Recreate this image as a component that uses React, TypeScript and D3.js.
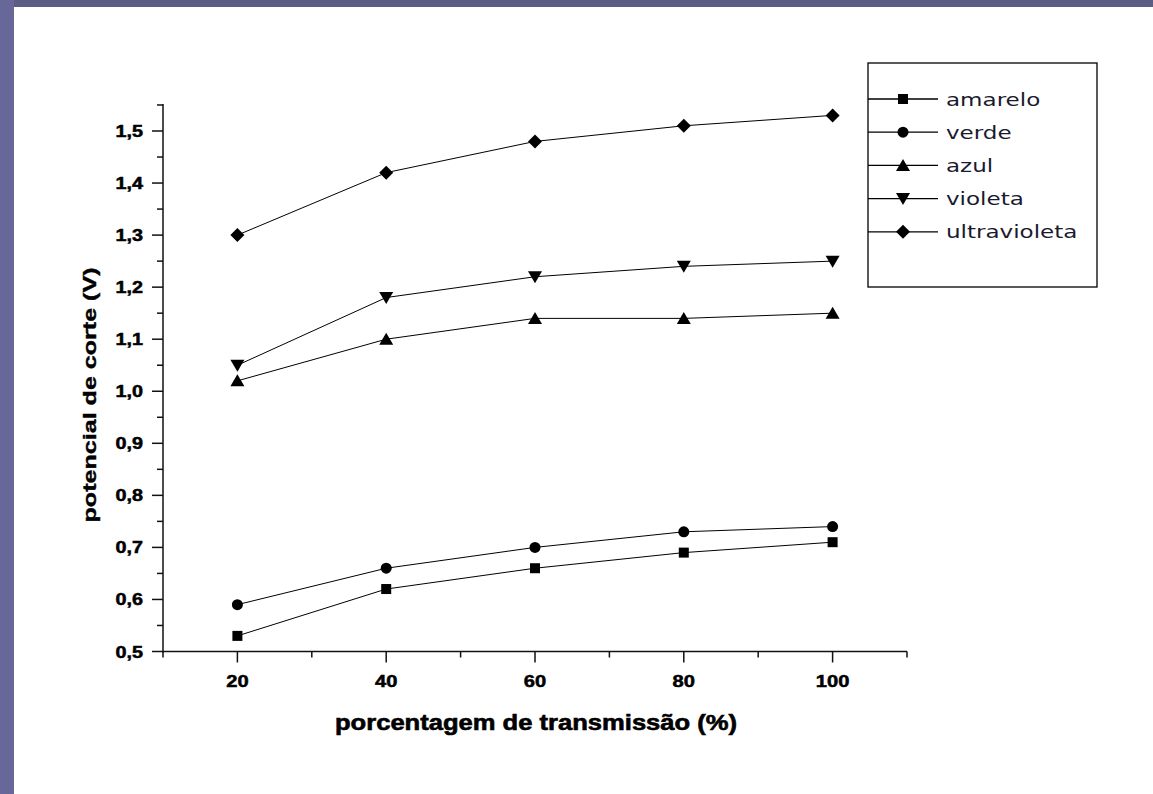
import React from "react";
import * as d3 from "d3";

const xValues = [20, 40, 60, 80, 100];
const seriesNames = ["amarelo", "verde", "azul", "violeta", "ultravioleta"];
const amarelo = [0.53, 0.62, 0.66, 0.69, 0.71];
const verde = [0.59, 0.66, 0.70, 0.73, 0.74];
const azul = [1.02, 1.10, 1.14, 1.14, 1.15];
const violeta = [1.05, 1.18, 1.22, 1.24, 1.25];
const ultravioleta = [1.30, 1.42, 1.48, 1.51, 1.53];
const seriesValues = [amarelo, verde, azul, violeta, ultravioleta];
const markerTypes = ["square", "circle", "triangle", "triangleDown", "diamond"];
const xTicks = [20, 40, 60, 80, 100];
const xMinorTicks = [10, 30, 50, 70, 90, 110];
const yTicks = [0.5, 0.6, 0.7, 0.8, 0.9, 1.0, 1.1, 1.2, 1.3, 1.4, 1.5];
const yMinorTicks = [0.55, 0.65, 0.75, 0.85, 0.95, 1.05, 1.15, 1.25, 1.35, 1.45, 1.55];

const W = 1153;
const H = 794;
const x = d3.scaleLinear().domain([10, 110]).range([163, 907]);
const y = d3.scaleLinear().domain([0.5, 1.5]).range([651.5, 131]);

function Marker({ type, cx, cy }: { type: string; cx: number; cy: number }) {
  if (type === "square") return <rect x={cx - 5} y={cy - 5} width={10} height={10} fill="#000" />;
  if (type === "circle") return <circle cx={cx} cy={cy} r={5.5} fill="#000" />;
  if (type === "triangle")
    return <path d={`M${cx},${cy - 6.5}L${cx + 7},${cy + 5.5}L${cx - 7},${cy + 5.5}Z`} fill="#000" />;
  if (type === "triangleDown")
    return <path d={`M${cx},${cy + 6.5}L${cx + 7},${cy - 5.5}L${cx - 7},${cy - 5.5}Z`} fill="#000" />;
  return <path d={`M${cx},${cy - 7}L${cx + 7},${cy}L${cx},${cy + 7}L${cx - 7},${cy}Z`} fill="#000" />;
}

export default function App() {
  const line = d3
    .line<number>()
    .x((_, i) => x(xValues[i]))
    .y((d) => y(d));
  const x0 = x.range()[0];
  const x1 = x.range()[1];
  const yBottom = y(0.5);
  const yTop = y(1.552);
  const tickFont = "'Liberation Sans', Arial, sans-serif";
  const legX = 868;
  const legY = 63;
  return (
    <svg
      width={W}
      height={H}
      style={{ position: "absolute", left: 0, top: 0, display: "block" }}
    >
      <rect x={0} y={0} width={W} height={H} fill="#fff" />
      <rect x={0} y={0} width={W} height={7} fill="#5d5c84" />
      <rect x={0} y={0} width={14} height={H} fill="#68679a" />
      {/* axes */}
      <line x1={x0} x2={x1} y1={yBottom} y2={yBottom} stroke="#111" strokeWidth={1.5} />
      <line x1={x0} x2={x0} y1={yBottom + 1} y2={yTop} stroke="#111" strokeWidth={1.5} />
      {xTicks.map((t) => (
        <g key={"xt" + t}>
          <line x1={x(t)} x2={x(t)} y1={yBottom} y2={yBottom + 11} stroke="#111" strokeWidth={1.5} />
          <text
            transform={`translate(${x(t)},687) scale(1.22,1)`}
            textAnchor="middle"
            fontFamily={tickFont}
            fontWeight="bold"
            fontSize={16.5}
            stroke="#000"
            strokeWidth={0.5}
            fill="#000"
          >
            {t}
          </text>
        </g>
      ))}
      {xMinorTicks.map((t) => (
        <line key={"xm" + t} x1={x(t)} x2={x(t)} y1={yBottom} y2={yBottom + 6} stroke="#111" strokeWidth={1.5} />
      ))}
      {yTicks.map((t) => (
        <g key={"yt" + t}>
          <line x1={x0 - 11} x2={x0} y1={y(t)} y2={y(t)} stroke="#111" strokeWidth={1.5} />
          <text
            transform={`translate(143,${y(t) + 6}) scale(1.2,1)`}
            textAnchor="end"
            fontFamily={tickFont}
            fontWeight="bold"
            fontSize={16.5}
            stroke="#000"
            strokeWidth={0.5}
            fill="#000"
          >
            {d3.format(".1f")(t).replace(".", ",")}
          </text>
        </g>
      ))}
      {yMinorTicks.map((t) => (
        <line key={"ym" + t} x1={x0 - 6} x2={x0} y1={y(t)} y2={y(t)} stroke="#111" strokeWidth={1.5} />
      ))}
      {/* axis titles */}
      <text
        x={536}
        y={730}
        textAnchor="middle"
        fontFamily={tickFont}
        fontWeight="bold"
        fontSize={22}
        textLength={402}
        lengthAdjust="spacingAndGlyphs"
        stroke="#000"
        strokeWidth={0.6}
        fill="#000"
      >
        porcentagem de transmissão (%)
      </text>
      <text
        transform={`translate(96,${395}) rotate(-90)`}
        textAnchor="middle"
        fontFamily={tickFont}
        fontWeight="bold"
        fontSize={19}
        textLength={255}
        lengthAdjust="spacingAndGlyphs"
        stroke="#000"
        strokeWidth={0.4}
        fill="#000"
      >
        potencial de corte (V)
      </text>
      {/* series */}
      {seriesValues.map((vals, si) => (
        <g key={"s" + si}>
          <path d={line(vals) || ""} fill="none" stroke="#000" strokeWidth={1} />
          {vals.map((v, i) => (
            <Marker key={i} type={markerTypes[si]} cx={x(xValues[i])} cy={y(v)} />
          ))}
        </g>
      ))}
      {/* legend */}
      <rect x={legX} y={legY} width={229} height={224} fill="#fff" stroke="#000" strokeWidth={1.3} />
      {seriesNames.map((name, i) => {
        const ly = 99 + i * 33.2;
        return (
          <g key={"l" + name}>
            <line x1={legX} x2={938} y1={ly} y2={ly} stroke="#000" strokeWidth={1.3} />
            <Marker type={markerTypes[i]} cx={903} cy={ly} />
            <text
              transform={`translate(946,${ly + 6.5}) scale(1.28,1)`}
              fontFamily="'DejaVu Sans', Verdana, sans-serif"
              fontSize={18}
              fill="#1a1a2e"
            >
              {name}
            </text>
          </g>
        );
      })}
    </svg>
  );
}
